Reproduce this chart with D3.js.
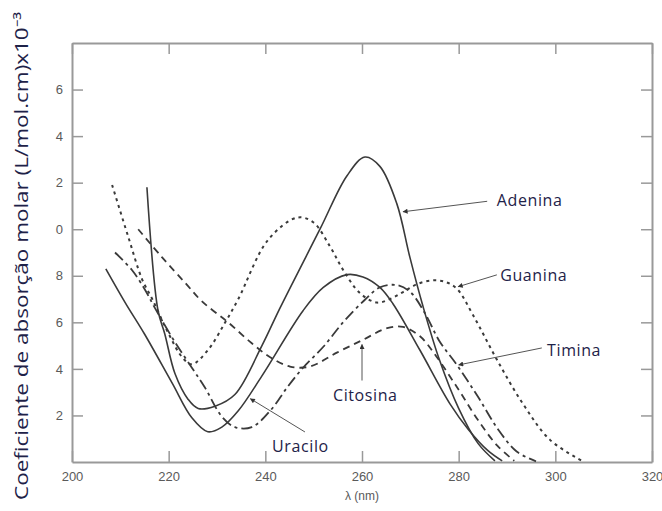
<!DOCTYPE html>
<html>
<head>
<meta charset="utf-8">
<script src="https://cdn.jsdelivr.net/npm/d3@7"></script>
<style>
  body { margin: 0; background: #fff; }
  .tick text { font-family: "Liberation Sans", Arial, sans-serif; font-size: 13px; fill: #5a5a5a; }
</style>
</head>
<body>
<div id="chart"></div>
<script>
// absorption spectra, [lambda nm, coefficient x10^3]
var adenina = [[215.5,11.8],[217.8,6.5],[219.2,5.5],[221.3,3.8],[224,2.7],[226.1,2.3],[229.6,2.4],[233.7,2.9],[239.3,5.0],[243,6.6],[251.3,10.0],[256.9,12.3],[260.6,13.1],[263.7,12.7],[267.2,11.1],[269.9,8.8],[272.6,6.7],[276,4.4],[280,2.3],[284,0.8],[287.5,0.05]];
var uracilo = [[207,8.3],[211,6.85],[215,5.5],[220.7,3.4],[224.8,1.9],[228.1,1.3],[231,1.5],[234.4,2.2],[239.3,3.7],[247.8,6.5],[252,7.5],[256.9,8.05],[260.2,7.95],[263.7,7.5],[266.4,6.8],[272,4.8],[278.2,2.5],[282,1.4],[286,0.5],[289,0.05]];
var guanina = [[208.3,11.9],[211.6,9.7],[214.5,7.85],[216.6,7.0],[219.9,5.55],[222.8,4.5],[224.8,4.2],[228.1,4.8],[231.7,6.0],[234.4,7.0],[240.6,9.55],[246.6,10.5],[249.9,10.3],[253.4,9.25],[256.1,8.25],[259.6,7.25],[263.1,6.85],[265.8,7.0],[268.5,7.3],[271.5,7.65],[274.5,7.8],[277,7.75],[279.6,7.45],[283,6.3],[287.9,4.4],[293.3,2.5],[298.9,0.95],[305.5,0.05]];
var citosina = [[213.7,10.0],[218.6,8.8],[223.4,7.7],[226.9,6.9],[232.3,6.0],[237.2,5.1],[241,4.5],[245.1,4.1],[249.2,4.1],[254.8,4.7],[260.2,5.25],[265.2,5.75],[268.5,5.8],[272,5.4],[275.5,4.5],[280,3.1],[284,1.8],[288,0.7],[291.5,0.05]];
var timina = [[208.9,9.0],[212.4,8.25],[215.1,7.4],[217.2,6.6],[221.3,5.15],[224.8,4.05],[227.5,3.2],[231,1.95],[233.7,1.5],[237.2,1.5],[241.2,2.25],[244.5,3.2],[247.8,4.05],[252,4.95],[256.1,6.0],[260.5,6.95],[263.7,7.5],[267.2,7.6],[270,7.3],[273,6.4],[276,5.2],[279.7,4.15],[284,2.8],[288,1.45],[292,0.45],[296,0.03]];

var xTicks = [200,220,240,260,280,300,320];
var yTicks = [2,4,6,8,10,12,14,16];
var yTickLabels = ["2","4","6","8","0","2","4","6"];

// label text, label anchor [nm,val], arrow tail, arrow tip
var labels = ["Adenina","Guanina","Timina","Citosina","Uracilo"];
var labelAt = [[287.9,11.0],[288.6,7.78],[298.3,4.56],[254,2.62],[241.4,0.43]];
var arrowFrom = [[285.9,11.2],[287.9,8.04],[297.2,4.9],[260,3.5],[248.2,1.29]];
var arrowTo = [[268.5,10.75],[279.9,7.53],[280.0,4.17],[260,5.05],[236.9,2.72]];

var canvasWidth = 662;
var canvasHeight = 511;

var svg = d3.select("#chart")
    .append("svg")
    .attr("width", canvasWidth)
    .attr("height", canvasHeight);

var x = d3.scaleLinear().domain([200,320]).range([72,652]);
var y = d3.scaleLinear().domain([0,18]).range([462,43]);

svg.append("defs").append("marker")
    .attr("id","arr")
    .attr("viewBox","0 0 10 10")
    .attr("refX",9).attr("refY",5)
    .attr("markerWidth",7).attr("markerHeight",5)
    .attr("markerUnits","userSpaceOnUse")
    .attr("orient","auto")
    .append("path")
    .attr("d","M0,0L10,5L0,10z")
    .attr("fill","#333");

// frame with inward ticks
var axes = [
    { g: d3.axisBottom(x).tickValues(xTicks).tickSize(-11).tickPadding(10), t: "translate(0,462)" },
    { g: d3.axisTop(x).tickValues(xTicks).tickSize(-11).tickFormat(""), t: "translate(0,43)" },
    { g: d3.axisLeft(y).tickValues(yTicks).tickSize(-11).tickPadding(9).tickFormat(function(d,i){ return yTickLabels[i]; }), t: "translate(72,0)" },
    { g: d3.axisRight(y).tickValues(yTicks).tickSize(-11).tickFormat(""), t: "translate(652,0)" }
];
axes.forEach(function(a){
    var g = svg.append("g").attr("transform", a.t).call(a.g.tickSizeOuter(0));
    g.select(".domain").attr("stroke","#999").attr("stroke-width",2);
    g.selectAll(".tick line").attr("stroke","#999").attr("stroke-width",1.5);
});

var line = d3.line()
    .x(function(d){ return x(d[0]); })
    .y(function(d){ return y(d[1]); })
    .curve(d3.curveCatmullRom.alpha(0.5));

var series = [
    { data: adenina, dash: null, w: 1.6 },
    { data: uracilo, dash: null, w: 1.6 },
    { data: guanina, dash: "3,4", w: 2 },
    { data: citosina, dash: "7,5", w: 1.8 },
    { data: timina, dash: "11,4,3,4", w: 1.8 }
];

svg.append("g")
    .selectAll("path")
    .data(series)
    .join("path")
    .attr("d", function(d){ return line(d.data); })
    .attr("fill","none")
    .attr("stroke","#3a3a3a")
    .attr("stroke-width", function(d){ return d.w; })
    .attr("stroke-dasharray", function(d){ return d.dash; });

// annotations
svg.append("g")
    .selectAll("line")
    .data(labels)
    .join("line")
    .attr("x1", function(d,i){ return x(arrowFrom[i][0]); })
    .attr("y1", function(d,i){ return y(arrowFrom[i][1]); })
    .attr("x2", function(d,i){ return x(arrowTo[i][0]); })
    .attr("y2", function(d,i){ return y(arrowTo[i][1]); })
    .attr("stroke","#555")
    .attr("stroke-width",1)
    .attr("marker-end","url(#arr)");

svg.append("g")
    .selectAll("text")
    .data(labels)
    .join("text")
    .attr("x", function(d,i){ return x(labelAt[i][0]); })
    .attr("y", function(d,i){ return y(labelAt[i][1]); })
    .attr("font-family","'Open Sans', sans-serif")
    .attr("font-size",16)
    .attr("letter-spacing",0.6)
    .attr("fill","#1e2248")
    .text(function(d){ return d; });

// axis titles
svg.append("text")
    .attr("x",362).attr("y",500)
    .attr("text-anchor","middle")
    .attr("font-family","'Liberation Sans', Arial, sans-serif")
    .attr("font-size",12)
    .attr("fill","#5a5a5a")
    .text("λ (nm)");

svg.append("text")
    .attr("transform","translate(28,500) rotate(-90)")
    .attr("font-family","'Open Sans', sans-serif")
    .attr("font-size",18)
    .attr("textLength",488)
    .attr("lengthAdjust","spacingAndGlyphs")
    .attr("fill","#1e2248")
    .text("Coeficiente de absorção molar (L/mol.cm)x10⁻³");
</script>
</body>
</html>
